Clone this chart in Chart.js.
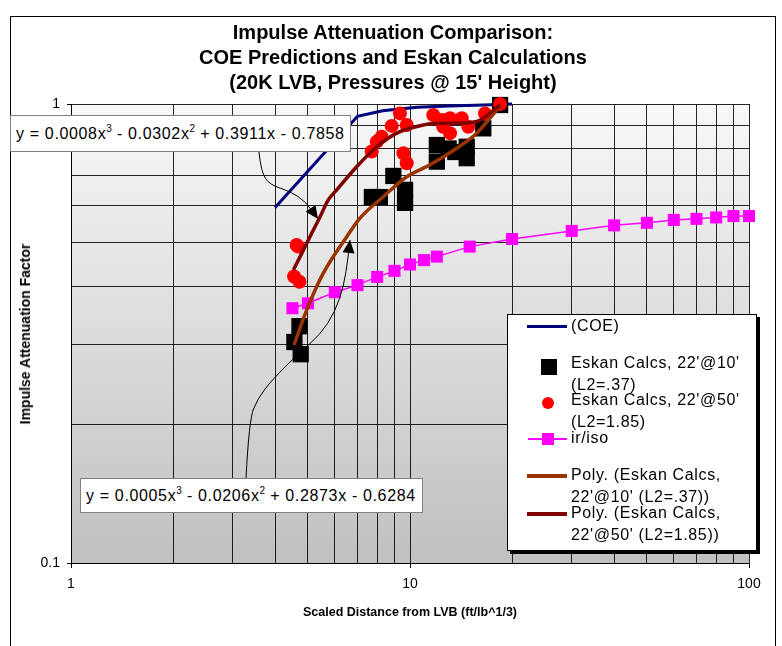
<!DOCTYPE html>
<html><head><meta charset="utf-8">
<script src="https://cdn.jsdelivr.net/npm/chart.js@4.4.1/dist/chart.umd.min.js"></script>
<style>
html,body{margin:0;padding:0;background:#fff;}
#wrap{position:relative;width:782px;height:646px;overflow:hidden;font-family:"Liberation Sans",Arial,sans-serif;color:#000;}
#frame{position:absolute;left:10px;top:16px;width:766px;height:700px;border:1px solid #000;box-sizing:border-box;}
canvas{position:absolute;left:0;top:0;}
.title{position:absolute;left:10px;width:766px;text-align:center;font-weight:bold;font-size:20px;line-height:25px;top:20px;white-space:nowrap;}
.xt{position:absolute;left:71px;width:678px;text-align:center;top:605px;font-weight:bold;font-size:12.5px;white-space:nowrap;}
.yt{position:absolute;left:25px;top:334px;transform:translate(-50%,-50%) rotate(-90deg);font-weight:bold;font-size:14px;white-space:nowrap;}
.eq{position:absolute;background:#fff;border:1px solid #808080;box-sizing:border-box;font-size:16px;letter-spacing:0.65px;white-space:nowrap;padding-left:5px;}
.eq sup{font-size:10px;line-height:0;vertical-align:7px;letter-spacing:0;}
#legend{position:absolute;left:507px;top:314px;width:250px;height:237px;border:1px solid #000;background:#fff;box-shadow:3px 3px 0 #000;box-sizing:border-box;}
.sw{position:absolute;}
.lt{position:absolute;left:571px;font-size:16px;letter-spacing:0.65px;line-height:21.5px;white-space:nowrap;}
</style></head>
<body>
<div id="wrap">
  <div id="frame"></div>
  <canvas id="c" width="782" height="646"></canvas>
  <div class="title">Impulse Attenuation Comparison:<br>COE Predictions and Eskan Calculations<br>(20K LVB, Pressures @ 15' Height)</div>
  <div class="yt">Impulse Attenuation Factor</div>
  <div class="xt">Scaled Distance from LVB (ft/lb^1/3)</div>
  <div class="eq" style="left:10px;top:115px;width:341px;height:37px;line-height:35px;">y = 0.0008x<sup>3</sup> - 0.0302x<sup>2</sup> + 0.3911x - 0.7858</div>
  <div class="eq" style="left:80px;top:478px;width:343px;height:35px;line-height:33px;">y = 0.0005x<sup>3</sup> - 0.0206x<sup>2</sup> + 0.2873x - 0.6284</div>
  <div id="legend"></div>
  <div class="sw" style="left:527px;top:325px;width:40px;height:3px;background:#000080;"></div>
  <div class="sw" style="left:541px;top:359px;width:16px;height:16px;background:#000;"></div>
  <div class="sw" style="left:542px;top:397px;width:12px;height:12px;border-radius:50%;background:#ff0000;"></div>
  <div class="sw" style="left:528px;top:438px;width:39px;height:1.5px;background:#ff00ff;"></div>
  <div class="sw" style="left:542px;top:433px;width:12px;height:12px;background:#ff00ff;"></div>
  <div class="sw" style="left:527px;top:474px;width:40px;height:3.5px;background:#993300;"></div>
  <div class="sw" style="left:527px;top:512px;width:40px;height:3.5px;background:#800000;"></div>
  <div class="lt" style="top:315px;">(COE)</div>
  <div class="lt" style="top:352px;">Eskan Calcs, 22'@10'<br>(L2=.37)</div>
  <div class="lt" style="top:389px;">Eskan Calcs, 22'@50'<br>(L2=1.85)</div>
  <div class="lt" style="top:427px;">ir/iso</div>
  <div class="lt" style="top:464px;">Poly. (Eskan Calcs,<br>22'@10' (L2=.37))</div>
  <div class="lt" style="top:502px;">Poly. (Eskan Calcs,<br>22'@50' (L2=1.85))</div>
</div>
<script>
// ---- data ----
const coeX = [4, 7, 8.3, 10.5, 13, 16.5, 20];
const coeY = [0.595, 0.94, 0.967, 0.984, 0.99, 0.995, 1.0];

const eskan10X = [4.56, 4.72, 4.76, 7.72, 8.15, 8.93, 9.67, 9.67, 12.0, 12.0, 13.0, 13.6, 14.7, 14.7, 16.45, 18.44];
const eskan10Y = [0.303, 0.328, 0.285, 0.627, 0.627, 0.697, 0.650, 0.609, 0.814, 0.749, 0.80, 0.786, 0.762, 0.807, 0.885, 0.995];

const eskan50X = [4.63, 4.68, 4.55, 4.72, 7.71, 7.98, 8.25, 8.83, 9.34, 9.78, 9.56, 9.78, 11.71, 12.4, 12.53, 13.12, 13.12, 14.21, 14.86, 16.64, 18.44];
const eskan50Y = [0.493, 0.489, 0.421, 0.41, 0.788, 0.828, 0.849, 0.896, 0.954, 0.900, 0.781, 0.743, 0.946, 0.923, 0.892, 0.931, 0.864, 0.931, 0.892, 0.954, 1.0];

const isoX = [4.5, 5, 6, 7, 8, 9, 10, 11, 12, 15, 20, 30, 40, 50, 60, 70, 80, 90, 100];
const isoY = [0.359, 0.368, 0.389, 0.403, 0.420, 0.433, 0.447, 0.457, 0.465, 0.489, 0.508, 0.529, 0.544, 0.551, 0.559, 0.562, 0.566, 0.570, 0.570];

const poly10X = [4.55, 4.96, 5.55, 6.51, 7.12, 8.34, 9.78, 11.46, 13.73, 15.73, 18.44];
const poly10Y = [0.2985, 0.356, 0.428, 0.514, 0.564, 0.628, 0.694, 0.737, 0.801, 0.864, 0.99];

const poly50X = [4.53, 4.74, 5.07, 5.43, 5.74, 6.08, 6.96, 7.98, 9.14, 10.47, 11.99, 13.73, 15.73, 18.44];
const poly50Y = [0.435, 0.465, 0.514, 0.568, 0.618, 0.650, 0.730, 0.807, 0.864, 0.893, 0.908, 0.908, 0.916, 0.995];

// tick positions (log gridlines) and labels
const xTicks = [1, 2, 3, 4, 5, 6, 7, 8, 9, 10, 20, 30, 40, 50, 60, 70, 80, 90, 100];
const yTicks = [0.1, 0.2, 0.3, 0.4, 0.5, 0.6, 0.7, 0.8, 0.9, 1];
const xTickLabels = ['1', '10', '100'];
const yTickLabels = ['0.1', '1'];

// annotation arrows (in data units)
const arrowTopX = [3.585, 3.636, 3.864, 4.426, 4.934, 5.354];
const arrowTopY = [0.786, 0.711, 0.666, 0.646, 0.612, 0.5616];
const arrowBotX = [3.283, 3.351, 3.561, 3.916, 4.738, 5.426, 6.009, 6.388, 6.563, 6.653];
const arrowBotY = [0.1532, 0.2049, 0.2288, 0.2504, 0.2882, 0.3139, 0.3522, 0.4034, 0.4620, 0.5055];

const pts = (xs, ys) => xs.map((x, i) => ({x, y: ys[i]}));
const isPow10 = v => Math.abs(Math.log10(v) - Math.round(Math.log10(v))) < 1e-9;
const FONT = '"Liberation Sans", Arial, sans-serif';

const bgPlugin = {
  id: 'bg',
  beforeDraw(c) {
    const {ctx, chartArea: a} = c;
    const g = ctx.createLinearGradient(0, a.top, 0, a.bottom);
    g.addColorStop(0, '#f8f8f8');
    g.addColorStop(1, '#c0c0c0');
    ctx.save();
    ctx.fillStyle = g;
    ctx.fillRect(a.left, a.top, a.right - a.left, a.bottom - a.top);
    ctx.restore();
  }
};

function drawArrow(c, xs, ys) {
  const sx = c.scales.x, sy = c.scales.y, ctx = c.ctx;
  const p = xs.map((x, i) => [sx.getPixelForValue(x), sy.getPixelForValue(ys[i])]);
  ctx.save();
  ctx.strokeStyle = '#000';
  ctx.lineWidth = 1;
  ctx.beginPath();
  ctx.moveTo(p[0][0], p[0][1]);
  for (let i = 1; i < p.length - 1; i++) {
    const mx = (p[i][0] + p[i + 1][0]) / 2, my = (p[i][1] + p[i + 1][1]) / 2;
    ctx.quadraticCurveTo(p[i][0], p[i][1], mx, my);
  }
  const n = p.length;
  ctx.lineTo(p[n - 1][0], p[n - 1][1]);
  ctx.stroke();
  const tip = p[n - 1], prev = p[n - 2];
  let dx = tip[0] - prev[0], dy = tip[1] - prev[1];
  const L = Math.hypot(dx, dy); dx /= L; dy /= L;
  const len = 13, hw = 6;
  const bx = tip[0] - dx * len, by = tip[1] - dy * len;
  ctx.fillStyle = '#000';
  ctx.beginPath();
  ctx.moveTo(tip[0], tip[1]);
  ctx.lineTo(bx - dy * hw, by + dx * hw);
  ctx.lineTo(bx + dy * hw, by - dx * hw);
  ctx.closePath();
  ctx.fill();
  ctx.restore();
}

const arrowPlugin = {
  id: 'arrows',
  afterDatasetsDraw(c) {
    drawArrow(c, arrowTopX, arrowTopY);
    drawArrow(c, arrowBotX, arrowBotY);
  }
};

const tickColor = ctx => (ctx.tick && isPow10(ctx.tick.value)) ? '#000' : 'rgba(0,0,0,0)';

new Chart(document.getElementById('c'), {
  type: 'scatter',
  data: {
    datasets: [
      {label: '(COE)', data: pts(coeX, coeY), showLine: true, borderColor: '#000080', borderWidth: 3, pointRadius: 0, order: 5, clip: false},
      {label: "Eskan Calcs, 22'@10' (L2=.37)", data: pts(eskan10X, eskan10Y), pointStyle: 'rect', pointRadius: 11.5, backgroundColor: '#000', borderColor: '#000', borderWidth: 0, order: 4, clip: false},
      {label: "Eskan Calcs, 22'@50' (L2=1.85)", data: pts(eskan50X, eskan50Y), pointStyle: 'circle', pointRadius: 7, backgroundColor: '#ff0000', borderColor: '#ff0000', borderWidth: 0, order: 3, clip: false},
      {label: 'ir/iso', data: pts(isoX, isoY), showLine: true, borderColor: '#ff00ff', borderWidth: 1.5, pointStyle: 'rect', pointRadius: 8.5, backgroundColor: '#ff00ff', pointBorderColor: '#ff00ff', pointBorderWidth: 0, order: 2, clip: false},
      {label: "Poly. (Eskan Calcs, 22'@10' (L2=.37))", data: pts(poly10X, poly10Y), showLine: true, borderColor: '#993300', borderWidth: 3.5, pointRadius: 0, cubicInterpolationMode: 'monotone', order: 1, clip: false},
      {label: "Poly. (Eskan Calcs, 22'@50' (L2=1.85))", data: pts(poly50X, poly50Y), showLine: true, borderColor: '#800000', borderWidth: 3.5, pointRadius: 0, cubicInterpolationMode: 'monotone', order: 0, clip: false}
    ]
  },
  options: {
    responsive: false,
    animation: false,
    devicePixelRatio: 1,
    events: [],
    layout: {padding: {top: 104, right: 33, left: 0, bottom: 0}},
    plugins: {legend: {display: false}, tooltip: {enabled: false}, title: {display: false}},
    scales: {
      x: {
        type: 'logarithmic', min: 1, max: 100,
        afterFit(s) { s.height = 83; },
        afterBuildTicks(s) { s.ticks = xTicks.map(v => ({value: v, major: isPow10(v)})); },
        ticks: {
          autoSkip: false, maxRotation: 0, color: '#000', padding: 8,
          font: {size: 14, family: FONT},
          callback: v => isPow10(v) ? xTickLabels[Math.round(Math.log10(v))] : ''
        },
        grid: {color: 'rgba(0,0,0,0.85)', lineWidth: 1, tickLength: 5, tickColor},
        border: {color: '#000', width: 1}
      },
      y: {
        type: 'logarithmic', min: 0.1, max: 1,
        afterFit(s) { s.width = 71; },
        afterBuildTicks(s) { s.ticks = yTicks.map(v => ({value: v, major: isPow10(v)})); },
        ticks: {
          autoSkip: false, color: '#000', padding: 7,
          font: {size: 14, family: FONT},
          callback: v => isPow10(v) ? yTickLabels[Math.round(Math.log10(v)) + 1] : ''
        },
        grid: {color: 'rgba(0,0,0,0.85)', lineWidth: 1, tickLength: 4, tickColor},
        border: {color: '#000', width: 1}
      }
    }
  },
  plugins: [bgPlugin, arrowPlugin]
});
</script>
</body></html>
